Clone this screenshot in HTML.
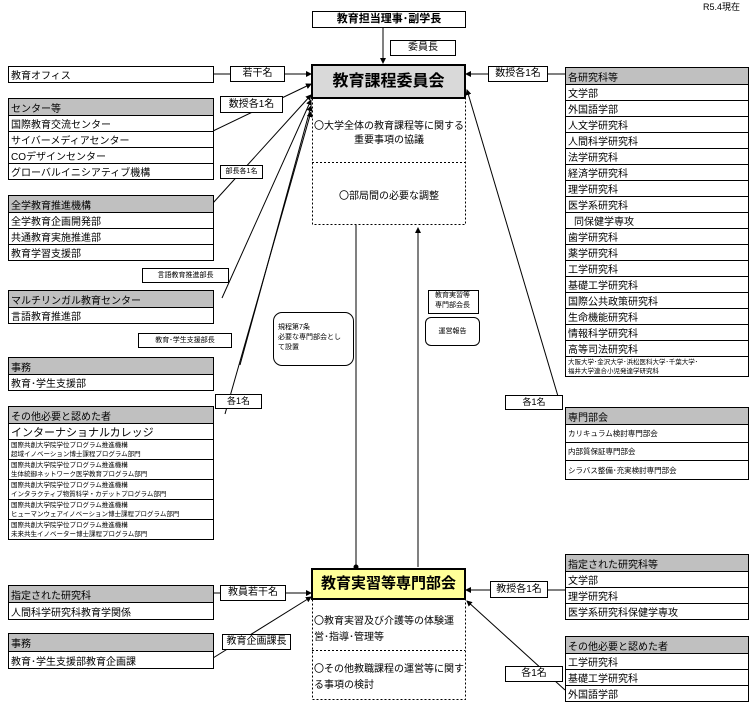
<!DOCTYPE html>
<html><head><meta charset="utf-8">
<style>
*{box-sizing:border-box;margin:0;padding:0}
body{width:756px;height:706px;background:#fff;position:relative;overflow:hidden;font-family:"Liberation Sans","Noto Sans CJK JP",sans-serif;color:#000}
.a{position:absolute}
.box{position:absolute;border:1px solid #000;background:#fff;text-align:center;white-space:nowrap}
.g{position:absolute;border:1px solid #000;background:#fff}
.g div{border-top:1px solid #000;font-size:10px;padding-left:2px;white-space:nowrap;overflow:hidden;display:flex;align-items:center}
.g div:first-child{border-top:none}
.g .h{background:#c0c0c0}
.g .s{font-size:6.5px;line-height:9px;display:block;padding-top:1px}
.c{font-family:"Noto Sans CJK JP",sans-serif}
svg{position:absolute;left:0;top:0}
</style></head><body>
<svg width="756" height="706">
<defs><marker id="ar" markerWidth="6" markerHeight="6" refX="5" refY="3" orient="auto"><path d="M0,0 L6,3 L0,6z" fill="#000"/></marker></defs>
<g stroke="#000" stroke-width="1" fill="none">
<line x1="383" y1="28" x2="383" y2="63" marker-end="url(#ar)"/>
<line x1="213" y1="74" x2="311" y2="74" marker-end="url(#ar)"/>
<line x1="213" y1="131" x2="311" y2="84" marker-end="url(#ar)"/>
<line x1="213" y1="203" x2="311" y2="95" marker-end="url(#ar)"/>
<line x1="222" y1="298" x2="311" y2="100" marker-end="url(#ar)"/>
<line x1="240" y1="365" x2="311" y2="106" marker-end="url(#ar)"/>
<line x1="225" y1="414" x2="311" y2="112" marker-end="url(#ar)"/>
<line x1="565" y1="74" x2="466" y2="74" marker-end="url(#ar)"/>
<line x1="560" y1="403" x2="467" y2="90" marker-end="url(#ar)"/>
<line x1="356" y1="225" x2="356" y2="567"/>
<line x1="418" y1="567" x2="418" y2="228" marker-end="url(#ar)"/>
<line x1="213" y1="593" x2="311" y2="593" marker-end="url(#ar)"/>
<line x1="213" y1="658" x2="311" y2="597" marker-end="url(#ar)"/>
<line x1="565" y1="590" x2="466" y2="590" marker-end="url(#ar)"/>
<line x1="565" y1="690" x2="467" y2="601" marker-end="url(#ar)"/>
</g>
<circle cx="356" cy="567" r="2.5" fill="#000"/>
<g stroke="#000" stroke-dasharray="2,2" fill="none">
<rect x="312.5" y="98.5" width="153" height="126"/>
<line x1="312" y1="162.5" x2="465" y2="162.5"/>
<rect x="312.5" y="599.5" width="153" height="100"/>
<line x1="312" y1="650.5" x2="465" y2="650.5"/>
</g>
</svg>
<div class="a" style="left:703px;top:0;font-size:9px">R5.4現在</div>
<div class="box" style="left:312px;top:11px;width:154px;height:17px;font-size:11px;font-weight:bold;line-height:15px">教育担当理事･副学長</div>
<div class="box" style="left:390px;top:40px;width:66px;height:16px;font-size:10px;line-height:14px">委員長</div>
<div class="box" style="left:311px;top:64px;width:155px;height:35px;border:2px solid #000;background:#d9d9d9;font-size:16px;font-weight:bold;line-height:31px">教育課程委員会</div>
<div class="a" style="left:312px;top:118px;width:154px;text-align:center;font-size:10px;line-height:14px"><span class="c">〇</span>大学全体の教育課程等に関する<br>重要事項の協議</div>
<div class="a" style="left:312px;top:187px;width:154px;text-align:center;font-size:10px"><span class="c">〇</span>部局間の必要な調整</div>

<div class="g" style="left:8px;top:66px;width:206px;height:17px"><div style="height:15px">教育オフィス</div></div>
<div class="box" style="left:230px;top:66px;width:55px;height:16px;font-size:10px;line-height:14px">若干名</div>
<div class="g" style="left:8px;top:98px;width:206px"><div class="h" style="height:16px">センター等</div><div style="height:16px">国際教育交流センター</div><div style="height:16px">サイバーメディアセンター</div><div style="height:16px">COデザインセンター</div><div style="height:16px">グローバルイニシアティブ機構</div></div>
<div class="box" style="left:220px;top:96px;width:63px;height:17px;font-size:10px;line-height:15px">数授各1名</div>
<div class="box" style="left:220px;top:165px;width:43px;height:14px;font-size:7px;line-height:12px">部長各1名</div>
<div class="g" style="left:8px;top:195px;width:206px"><div class="h" style="height:16px">全学教育推進機構</div><div style="height:16px">全学教育企画開発部</div><div style="height:16px">共通教育実施推進部</div><div style="height:16px">教育学習支援部</div></div>
<div class="box" style="left:142px;top:268px;width:87px;height:15px;font-size:7px;line-height:13px">言語教育推進部長</div>
<div class="g" style="left:8px;top:290px;width:206px"><div class="h" style="height:16px">マルチリンガル教育センター</div><div style="height:16px">言語教育推進部</div></div>
<div class="box" style="left:138px;top:333px;width:94px;height:15px;font-size:7px;line-height:13px">教育･学生支援部長</div>
<div class="g" style="left:8px;top:357px;width:206px"><div class="h" style="height:16px">事務</div><div style="height:16px">教育･学生支援部</div></div>
<div class="box" style="left:215px;top:394px;width:47px;height:15px;font-size:9px;line-height:13px">各1名</div>
<div class="g" style="left:8px;top:406px;width:206px"><div class="h" style="height:16px">その他必要と認めた者</div><div style="height:16px;font-size:11px">インターナショナルカレッジ</div>
<div class="s" style="height:20px">国際共創大学院学位プログラム推進機構<br>超域イノベーション博士課程プログラム部門</div>
<div class="s" style="height:20px">国際共創大学院学位プログラム推進機構<br>生体統御ネットワーク医学教育プログラム部門</div>
<div class="s" style="height:20px">国際共創大学院学位プログラム推進機構<br>インタラクティブ物質科学・カデットプログラム部門</div>
<div class="s" style="height:20px">国際共創大学院学位プログラム推進機構<br>ヒューマンウェアイノベーション博士課程プログラム部門</div>
<div class="s" style="height:20px">国際共創大学院学位プログラム推進機構<br>未来共生イノベーター博士課程プログラム部門</div></div>

<div class="box" style="left:488px;top:66px;width:60px;height:16px;font-size:10px;line-height:14px">数授各1名</div>
<div class="g" style="left:565px;top:67px;width:184px"><div class="h" style="height:16px">各研究科等</div><div style="height:16px">文学部</div><div style="height:16px">外国語学部</div><div style="height:16px">人文学研究科</div><div style="height:16px">人間科学研究科</div><div style="height:16px">法学研究科</div><div style="height:16px">経済学研究科</div><div style="height:16px">理学研究科</div><div style="height:16px">医学系研究科</div><div style="height:16px;padding-left:8px">同保健学専攻</div><div style="height:16px">歯学研究科</div><div style="height:16px">薬学研究科</div><div style="height:16px">工学研究科</div><div style="height:16px">基礎工学研究科</div><div style="height:16px">国際公共政策研究科</div><div style="height:16px">生命機能研究科</div><div style="height:16px">情報科学研究科</div><div style="height:16px">高等司法研究科</div><div class="s" style="height:20px">大阪大学･金沢大学･浜松医科大学･千葉大学･<br>福井大学連合小児発達学研究科</div></div>
<div class="box" style="left:505px;top:395px;width:58px;height:15px;font-size:9px;line-height:13px">各1名</div>
<div class="g" style="left:565px;top:407px;width:184px"><div class="h" style="height:16px">専門部会</div><div style="height:18px;font-size:7.5px">カリキュラム検討専門部会</div><div style="height:18px;font-size:7.5px">内部質保証専門部会</div><div style="height:19px;font-size:7.5px">シラバス整備･充実検討専門部会</div></div>

<div class="box" style="left:428px;top:290px;width:51px;height:24px;font-size:7px;line-height:10px;text-align:left;padding-left:6px">教育実習等<br>専門部会長</div>
<div class="box" style="left:425px;top:317px;width:55px;height:29px;border-radius:6px;font-size:7px;line-height:27px">運営報告</div>
<div class="box" style="left:273px;top:312px;width:81px;height:54px;border-radius:9px;font-size:7px;line-height:10px;text-align:left;padding:10px 0 0 4px;white-space:normal">規程第7条<br>必要な専門部会とし<br>て設置</div>

<div class="box" style="left:311px;top:568px;width:155px;height:32px;border:2px solid #000;background:#ffff99;font-size:15px;font-weight:bold;line-height:28px">教育実習等専門部会</div>
<div class="a" style="left:314px;top:612px;width:150px;font-size:10px;line-height:16px"><span class="c">〇</span>教育実習及び介護等の体験運<br>営･指導･管理等</div>
<div class="a" style="left:314px;top:660px;width:150px;font-size:10px;line-height:16px"><span class="c">〇</span>その他教職課程の運営等に関す<br>る事項の検討</div>

<div class="g" style="left:8px;top:585px;width:206px"><div class="h" style="height:16px">指定された研究科</div><div style="height:17px">人間科学研究科教育学関係</div></div>
<div class="box" style="left:220px;top:585px;width:66px;height:16px;font-size:10px;line-height:14px">教員若干名</div>
<div class="g" style="left:8px;top:633px;width:206px"><div class="h" style="height:17px">事務</div><div style="height:17px">教育･学生支援部教育企画課</div></div>
<div class="box" style="left:222px;top:634px;width:69px;height:16px;font-size:10px;line-height:14px">教育企画課長</div>

<div class="box" style="left:490px;top:581px;width:58px;height:17px;font-size:10px;line-height:15px">教授各1名</div>
<div class="g" style="left:565px;top:554px;width:184px"><div class="h" style="height:16px">指定された研究科等</div><div style="height:16px">文学部</div><div style="height:16px">理学研究科</div><div style="height:16px">医学系研究科保健学専攻</div></div>
<div class="g" style="left:565px;top:636px;width:184px"><div class="h" style="height:16px">その他必要と認めた者</div><div style="height:16px">工学研究科</div><div style="height:16px">基礎工学研究科</div><div style="height:16px">外国語学部</div></div>
<div class="box" style="left:505px;top:666px;width:58px;height:16px;font-size:10px;line-height:14px">各1名</div>
</body></html>
